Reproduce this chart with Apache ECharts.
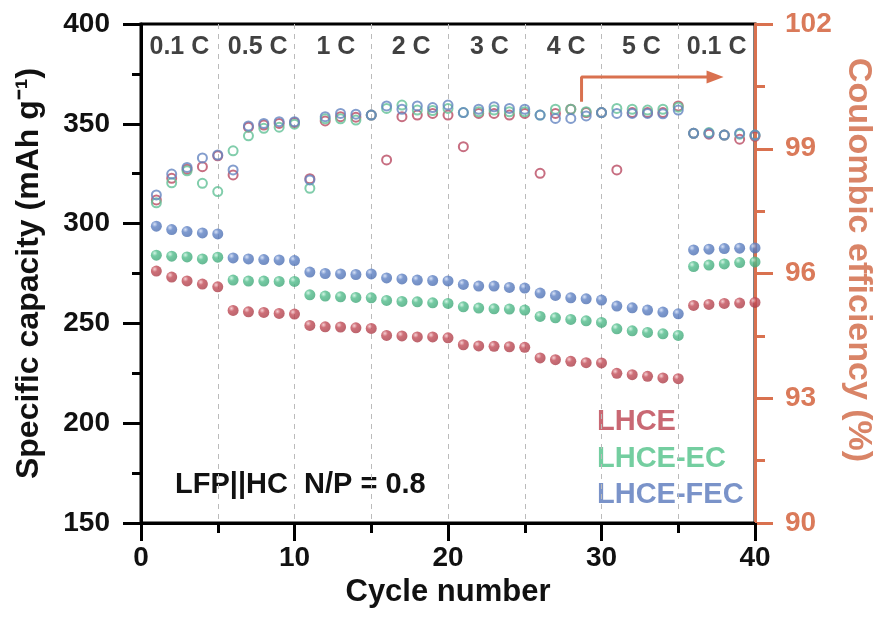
<!DOCTYPE html>
<html><head><meta charset="utf-8">
<script src="https://cdn.jsdelivr.net/npm/echarts@6/dist/echarts.min.js"></script>
<style>html,body{margin:0;padding:0;background:#fff}#c{width:877px;height:628px}</style>
</head><body><div id="c"></div>
<script>
const cycles = [1,2,3,4,5,6,7,8,9,10,11,12,13,14,15,16,17,18,19,20,21,22,23,24,25,26,27,28,29,30,31,32,33,34,35,36,37,38,39,40];

const capLHCE = [276.2,273.2,271.3,269.7,268.3, 256.5,255.8,255.5,255.0,254.7, 249.0,248.3,248.2,247.8,247.5, 244.0,243.7,243.2,243.2,242.8,
                 239.3,238.7,238.5,238.3,238.0, 232.7,231.8,231.0,230.3,230.2, 225.0,224.3,223.5,222.7,222.3, 259.0,259.5,260.0,260.2,260.5];
const capEC   = [284.2,283.7,283.3,282.3,283.2, 271.7,271.2,271.2,271.0,271.0, 264.3,263.7,263.3,263.0,262.8, 261.5,261.0,260.8,260.3,260.0,
                 258.3,257.7,257.3,257.2,256.7, 253.5,252.8,252.0,251.3,250.5, 247.3,246.3,245.5,244.8,244.0, 278.5,279.2,279.8,280.5,280.8];
const capFEC  = [298.7,297.0,296.0,295.3,294.8, 282.8,282.3,282.0,281.8,281.5, 275.7,275.0,274.8,274.5,274.8, 272.8,272.3,271.7,271.5,271.3,
                 269.5,268.7,268.7,268.0,267.7, 265.2,264.0,262.8,262.3,261.7, 258.7,257.8,256.7,255.7,254.8, 286.8,287.2,287.5,287.7,287.8];

const ceLHCE = [97.77,98.29,98.51,98.57,98.83, 98.37,99.52,99.57,99.61,99.63, 98.28,99.67,99.77,99.76,99.81, 98.73,99.77,99.81,99.85,99.81,
                99.05,99.85,99.85,99.81,99.85, 98.41,99.85,99.95,99.87,99.87, 98.49,99.87,99.87,99.87,100.03, 99.37,99.35,99.33,99.23,99.30];
const ceEC   = [97.70,98.18,98.47,98.17,97.97, 98.95,99.31,99.49,99.52,99.59, 98.05,99.72,99.72,99.69,99.81, 99.97,100.05,99.93,99.92,99.97,
                99.87,99.89,99.93,99.89,99.89, 99.81,99.95,99.95,99.89,99.87, 99.97,99.95,99.93,99.95,100.00, 99.37,99.39,99.33,99.35,99.33];
const ceFEC  = [97.89,98.39,98.55,98.78,98.85, 98.49,99.55,99.61,99.65,99.65, 98.25,99.77,99.85,99.83,99.81, 100.03,99.95,100.03,99.99,100.05,
                99.87,99.95,100.01,99.97,99.95, 99.81,99.73,99.73,99.79,99.87, 99.85,99.85,99.85,99.84,99.93, 99.37,99.37,99.33,99.37,99.33];

const rateLabels = ['0.1 C','0.5 C','1 C','2 C','3 C','4 C','5 C','0.1 C'];
const rateCenters = [2.5,7.6,12.7,17.6,22.7,27.7,32.6,37.5];
const rateLabelY = 388.5;

const xTicks = [0,10,20,30,40];
const leftTicks = [150,200,250,300,350,400];
const rightTicks = [90,93,96,99,102];

const arrowX = [28.7,28.7,37.4];
const arrowY = [361,373.4,373.4];

const seriesNames = ['LHCE','LHCE-EC','LHCE-FEC'];
const colors = ['#c24c57','#52bd8c','#5f82c4'];
const darks = ['#a83c47','#3fa577','#4c6eb0'];
const lights = ['#f4c4c8','#c8f2de','#cddaf4'];
const hollowColors = ['#b94a62','#62c196','#6484c0'];
const legendColors = ['#c96873','#74cea0','#7a93c9'];
const orange = '#d9714f';
const FONT = 'Liberation Sans, Arial, sans-serif';

function pairs(xs, ys){ return xs.map((x,i)=>[x, ys[i]]); }
function grad(i){
  return {type:'radial', x:0.35, y:0.32, r:0.75, colorStops:[
    {offset:0,color:lights[i]},{offset:0.35,color:colors[i]},{offset:1,color:darks[i]}]};
}

const chart = echarts.init(document.getElementById('c'), null, {renderer:'canvas'});
const caps = [capLHCE, capEC, capFEC];
const ces = [ceLHCE, ceEC, ceFEC];
const series = [];
ces.forEach((ce,i)=>{
  series.push({name:seriesNames[i]+' CE', type:'scatter', yAxisIndex:1, symbol:'circle', symbolSize:9,
    itemStyle:{color:'rgba(255,255,255,0)', borderColor:hollowColors[i], borderWidth:2},
    data:pairs(cycles, ce), z:3});
});
caps.forEach((cap,i)=>{
  series.push({name:seriesNames[i], type:'scatter', yAxisIndex:0, symbol:'circle', symbolSize:11,
    itemStyle:{color:grad(i)}, data:pairs(cycles, cap), z:4});
});
series.push({type:'line', yAxisIndex:0, data:pairs(arrowX, arrowY).map((p,i)=>({value:p,
    symbol: i===arrowX.length-1 ? 'triangle':'none', symbolSize:[13,17], symbolRotate:-90})),
  lineStyle:{color:orange, width:3}, itemStyle:{color:orange}, showSymbol:true, silent:true, z:5, animation:false});
series.push({type:'scatter', yAxisIndex:0, symbolSize:0, silent:true,
  data: rateCenters.map((c,i)=>({value:[c, rateLabelY], name:rateLabels[i]})),
  label:{show:true, position:'inside', formatter:p=>p.name, color:'#111', fontSize:25, fontWeight:'bold', fontFamily:FONT}, z:6});

chart.setOption({
  animation:false,
  backgroundColor:'#fff',
  grid:{left:141, right:122, top:24, bottom:105, show:true, borderColor:'#000', borderWidth:3,
        outerBoundsMode:'none', containLabel:false},
  xAxis:{type:'value', min:0, max:40, interval:10,
    name:'Cycle number', nameLocation:'middle', nameGap:54,
    nameTextStyle:{fontSize:31, fontWeight:'bold', color:'#111', fontFamily:FONT},
    axisLine:{lineStyle:{color:'#000', width:3}},
    axisTick:{show:true, inside:false, length:18, lineStyle:{color:'#000', width:3}},
    minorTick:{show:true, splitNumber:2, length:10, lineStyle:{color:'#000', width:3}},
    axisLabel:{fontSize:28, fontWeight:'bold', color:'#111', margin:21, fontFamily:FONT,
      formatter:v=> xTicks.includes(v)? String(v):''},
    splitLine:{show:true, lineStyle:{color:'#bbb', type:[5,5], width:1}},
    minorSplitLine:{show:true, lineStyle:{color:'#bbb', type:[5,5], width:1}}
  },
  yAxis:[
    {type:'value', min:150, max:400, interval:50, position:'left',
      name:'Specific capacity (mAh g\u207B\u00B9)', nameLocation:'middle', nameGap:96, nameRotate:90,
      nameTextStyle:{fontSize:32, fontWeight:'bold', color:'#111', fontFamily:FONT},
      axisLine:{show:true, lineStyle:{color:'#000', width:3}},
      axisTick:{show:true, length:18, lineStyle:{color:'#000', width:3}},
      minorTick:{show:true, splitNumber:2, length:9, lineStyle:{color:'#000', width:3}},
      axisLabel:{fontSize:28, fontWeight:'bold', color:'#111', margin:31, fontFamily:FONT,
        formatter:v=> leftTicks.includes(v)? String(v):''},
      splitLine:{show:false}},
    {type:'value', min:90, max:102, interval:3, position:'right',
      axisLine:{show:true, lineStyle:{color:orange, width:3}},
      axisTick:{show:true, length:18, lineStyle:{color:orange, width:3}},
      minorTick:{show:true, splitNumber:2, length:10, lineStyle:{color:orange, width:3}},
      axisLabel:{fontSize:28, fontWeight:'bold', color:'#da7a5a', margin:30, fontFamily:FONT,
        formatter:v=> rightTicks.includes(v)? String(v):''},
      splitLine:{show:false}}
  ],
  graphic:[
    {type:'text', x:858, y:260, rotation:-Math.PI/2,
      style:{text:'Coulombic efficiency (%)', fontSize:34, fontWeight:'bold', fill:'#d98467', fontFamily:FONT, align:'center', verticalAlign:'middle'}},
    {type:'text', left:175, top:470, style:{text:'LFP||HC  N/P = 0.8', fontSize:29, fontWeight:'bold', fill:'#111', fontFamily:FONT}},
    {type:'text', left:597, top:407, style:{text:seriesNames[0], fontSize:29, fontWeight:'bold', fill:legendColors[0], fontFamily:FONT}},
    {type:'text', left:597, top:444, style:{text:seriesNames[1], fontSize:29, fontWeight:'bold', fill:legendColors[1], fontFamily:FONT}},
    {type:'text', left:597, top:480, style:{text:seriesNames[2], fontSize:29, fontWeight:'bold', fill:legendColors[2], fontFamily:FONT}}
  ],
  series: series
});
</script></body></html>
